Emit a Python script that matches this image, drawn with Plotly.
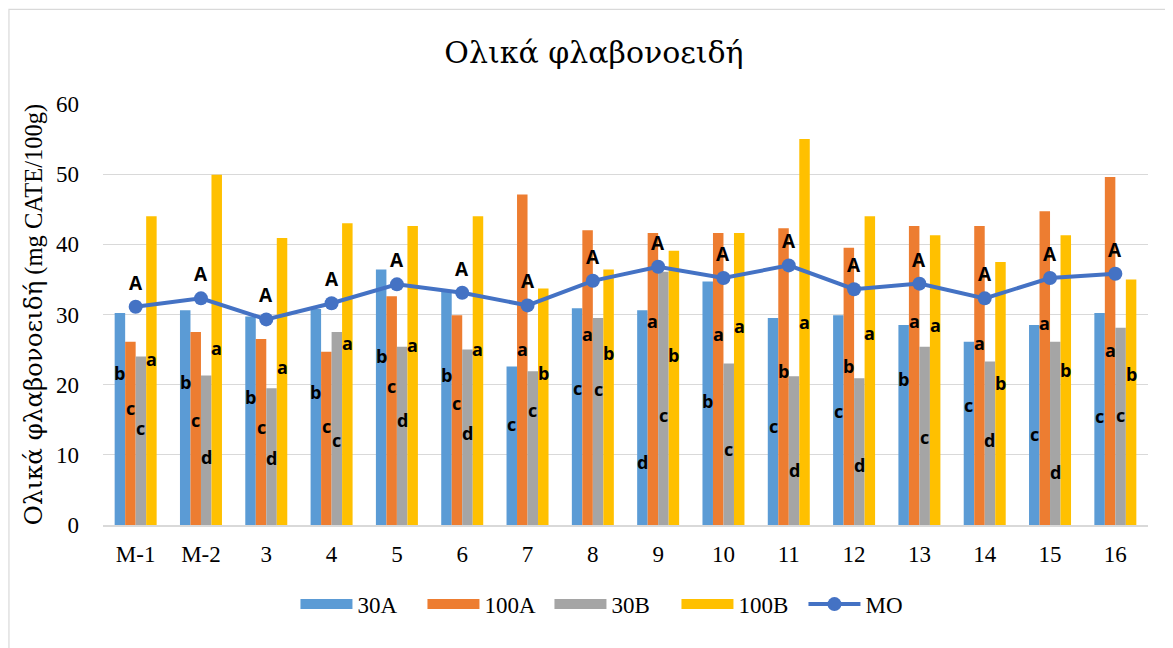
import plotly.graph_objects as go

# ---------------- data ----------------
categories = ["M-1", "M-2", "3", "4", "5", "6", "7", "8", "9", "10", "11", "12", "13", "14", "15", "16"]

v_30A  = [30.2, 30.6, 29.7, 30.8, 36.4, 33.5, 22.6, 30.9, 30.6, 34.7, 29.5, 29.9, 28.5, 26.1, 28.5, 30.2]
v_100A = [26.1, 27.5, 26.5, 24.7, 32.6, 29.9, 47.1, 42.0, 41.6, 41.6, 42.3, 39.5, 42.6, 42.6, 44.7, 49.6]
v_30B  = [24.0, 21.3, 19.5, 27.5, 25.4, 25.0, 21.9, 29.5, 36.1, 23.0, 21.2, 20.9, 25.4, 23.3, 26.1, 28.1]
v_100B = [44.0, 49.9, 40.9, 43.0, 42.6, 44.0, 33.7, 36.4, 39.1, 41.6, 55.0, 44.0, 41.3, 37.5, 41.3, 35.0]
v_MO   = [31.1, 32.3, 29.3, 31.6, 34.3, 33.1, 31.3, 34.8, 36.8, 35.2, 37.0, 33.6, 34.4, 32.3, 35.2, 35.8]

# significance letters
let_30A  = ["b", "b", "b", "b", "b", "b", "c", "c", "d", "b", "c", "c", "b", "c", "c", "c"]
let_100A = ["c", "c", "c", "c", "c", "c", "a", "a", "a", "a", "b", "b", "a", "a", "a", "a"]
let_30B  = ["c", "d", "d", "c", "d", "d", "c", "c", "c", "c", "d", "d", "c", "d", "d", "c"]
let_100B = ["a", "a", "a", "a", "a", "a", "b", "b", "b", "a", "a", "a", "a", "b", "b", "b"]
let_MO   = ["A"] * 16

# heights (in axis units) at which the letters were placed
lbl_30A  = [21.7, 20.4, 18.2, 19.0, 24.1, 21.4, 14.4, 19.5, 9.0, 17.7, 14.1, 16.3, 20.8, 17.1, 13.0, 15.5]
lbl_100A = [16.7, 15.0, 14.0, 14.1, 19.8, 17.4, 25.1, 27.2, 29.1, 27.2, 22.0, 22.7, 29.1, 25.9, 28.8, 24.9]
lbl_30B  = [13.8, 9.7, 9.6, 12.1, 15.0, 13.1, 16.4, 19.4, 15.7, 10.8, 7.8, 8.6, 12.5, 12.1, 7.6, 15.7]
lbl_100B = [23.7, 25.2, 22.5, 25.9, 25.7, 25.1, 21.7, 24.5, 24.2, 28.4, 28.9, 27.4, 28.5, 20.2, 22.1, 21.5]

series_names = ["30A", "100A", "30B", "100B"]
series_vals = [v_30A, v_100A, v_30B, v_100B]
series_lets = [let_30A, let_100A, let_30B, let_100B]
series_lbl = [lbl_30A, lbl_100A, lbl_30B, lbl_100B]
colors = ["#5B9BD5", "#ED7D31", "#A5A5A5", "#FFC000"]
mo_color = "#4472C4"

# ---------------- figure ----------------
xs = list(range(len(categories)))
bargap = 0.357
group_w = 1 - bargap
bar_w = group_w / len(series_names)

fig = go.Figure()
for name, vals, col in zip(series_names, series_vals, colors):
    fig.add_trace(go.Bar(x=xs, y=vals, name=name, marker=dict(color=col, line=dict(width=0)),
                         legendgroup=name, showlegend=False))
    # legend swatch
    fig.add_trace(go.Scatter(x=[None], y=[None], mode="lines", name=name, legendgroup=name,
                             line=dict(color=col, width=11), hoverinfo="skip"))

fig.add_trace(go.Scatter(x=xs, y=v_MO, name="MO", mode="lines+markers", legendgroup="MO",
                         line=dict(color=mo_color, width=4),
                         marker=dict(color=mo_color, size=14)))

annotations = []
letter_font = dict(family="Open Sans, Lato, sans-serif", size=18, color="#000000")
for j, (lets, lbls) in enumerate(zip(series_lets, series_lbl)):
    off = -group_w / 2 + bar_w * (j + 0.5)
    for i in xs:
        annotations.append(dict(x=i + off, y=lbls[i], xref="x", yref="y", text="<b>%s</b>" % lets[i],
                                showarrow=False, font=letter_font))
for i in xs:
    annotations.append(dict(x=i, y=v_MO[i], xref="x", yref="y", text="<b>%s</b>" % let_MO[i],
                            showarrow=False, yshift=24,
                            font=dict(family="Open Sans, Lato, sans-serif", size=19, color="#000000")))

serif = "Liberation Serif, Times New Roman, serif"
greek = "DejaVu Serif"

fig.update_layout(
    width=1165, height=640,
    margin=dict(l=95, r=25, t=96, b=123),
    paper_bgcolor="white", plot_bgcolor="white",
    barmode="group", bargap=bargap, bargroupgap=0,
    title=dict(text="Ολικά φλαβονοειδή", x=0.503, xanchor="center", y=0.931, yanchor="middle",
               font=dict(family=greek, size=30, color="#000000")),
    font=dict(family=serif, size=23, color="#000000"),
    legend=dict(orientation="h", x=0.488, xanchor="center", y=-0.188, yanchor="middle",
                font=dict(family=serif, size=23, color="#000000"), itemwidth=52,
                entrywidth=60, entrywidthmode="pixels",
                bgcolor="rgba(0,0,0,0)"),
    annotations=annotations,
    showlegend=True,
    shapes=[dict(type="rect", xref="paper", yref="paper", x0=-0.09, x1=1.2, y0=-0.4, y1=1.225,
                 line=dict(color="#D9D9D9", width=1.2), fillcolor="rgba(0,0,0,0)", layer="below")],
)

fig.update_xaxes(range=[-0.5, len(categories) - 0.5], tickmode="array", tickvals=xs, ticktext=categories,
                 showgrid=False, showline=True, linecolor="#D9D9D9", linewidth=1.5, zeroline=False,
                 ticks="", ticklabelstandoff=8, tickfont=dict(family=serif, size=23, color="#000000"))
fig.update_yaxes(range=[0, 60], dtick=10, showgrid=True, gridcolor="#D9D9D9", gridwidth=1.3,
                 zeroline=False, showline=False, ticks="", ticklabelstandoff=23,
                 tickfont=dict(family=serif, size=23, color="#000000"),
                 title=dict(text="<span style=\"font-family:DejaVu Serif\">Ολικά φλαβονοειδή</span> (mg CATE/100g)",
                            standoff=6, font=dict(family=serif, size=24.5, color="#000000")))

fig.write_html("out.html")
